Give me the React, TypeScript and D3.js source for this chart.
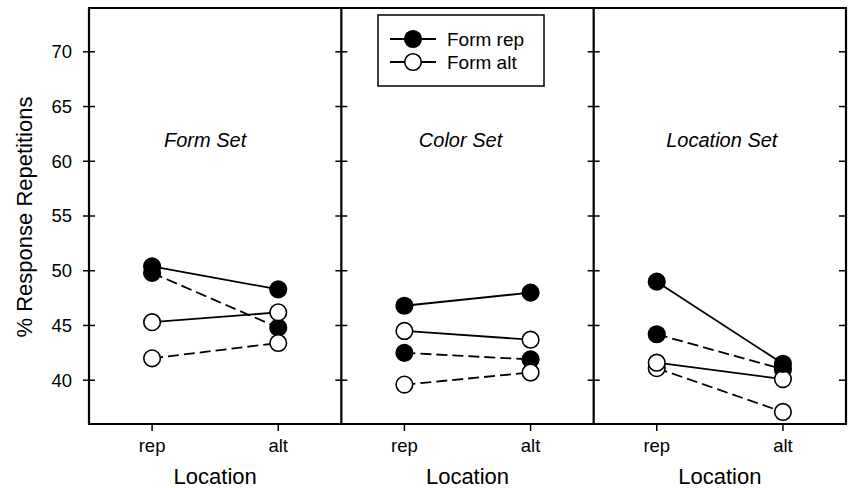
import React from "react";
import * as d3 from "d3";

// ---- data ----
const panelTitles = ["Form Set", "Color Set", "Location Set"];
const locations = ["rep", "alt"];
const yTicks = [40, 45, 50, 55, 60, 65, 70];
const legendLabels = ["Form rep", "Form alt"];

// values per panel: [rep, alt]
const formRepSolid = [[50.4, 48.3], [46.8, 48.0], [49.0, 41.5]];
const formRepDashed = [[49.8, 44.8], [42.5, 41.9], [44.2, 41.0]];
const formAltSolid = [[45.3, 46.2], [44.5, 43.7], [41.6, 40.1]];
const formAltDashed = [[42.0, 43.4], [39.6, 40.7], [41.1, 37.1]];

const series = [
  { name: "formRepDashed", values: formRepDashed, filled: true, dashed: true },
  { name: "formAltDashed", values: formAltDashed, filled: false, dashed: true },
  { name: "formAltSolid", values: formAltSolid, filled: false, dashed: false },
  { name: "formRepSolid", values: formRepSolid, filled: true, dashed: false },
];

// ---- layout ----
const W = 849;
const H = 488;
const L = 89;
const R = 846;
const T = 8;
const B = 424;
const PW = (R - L) / 3;
const TITLE_DX = [-10, -7, 2];
const FONT = "'Liberation Sans', Arial, sans-serif";
const RAD = 8.3;

export default function App() {
  const y = d3.scaleLinear().domain([36, 74]).range([B, T]);
  const xFor = (p: number) =>
    d3.scalePoint<string>().domain(locations).range([L + p * PW, L + (p + 1) * PW]).padding(0.5);
  const line = (xs: d3.ScalePoint<string>) =>
    d3
      .line<number>()
      .x((_, i) => xs(locations[i]) as number)
      .y((d) => y(d));

  return (
    <svg width={W} height={H} style={{ position: "absolute", left: 0, top: 0 }}>
      <rect x={0} y={0} width={W} height={H} fill="#fff" />
      {/* frame */}
      <line x1={L - 1} x2={R + 1} y1={T} y2={T} stroke="#000" strokeWidth={2.2} />
      <line x1={L - 1} x2={R + 1} y1={B} y2={B} stroke="#000" strokeWidth={2.2} />
      {[0, 1, 2, 3].map((i) => (
        <line key={i} x1={L + i * PW} x2={L + i * PW} y1={T} y2={B} stroke="#000" strokeWidth={2.2} />
      ))}
      {/* y ticks */}
      {yTicks.map((t) => (
        <g key={t}>
          {[0, 1, 2].map((i) => (
            <line key={i} x1={L + i * PW - 6} x2={L + i * PW + 6} y1={y(t)} y2={y(t)} stroke="#000" strokeWidth={1.5} />
          ))}
          <line x1={R - 7} x2={R} y1={y(t)} y2={y(t)} stroke="#000" strokeWidth={1.5} />
          <text x={72} y={y(t)} dy="0.35em" textAnchor="end" fontFamily={FONT} fontSize={18.5}>
            {t}
          </text>
        </g>
      ))}
      <text
        transform={`translate(32,217) rotate(-90)`}
        textAnchor="middle"
        fontFamily={FONT}
        fontSize={22}
      >
        % Response Repetitions
      </text>
      {panelTitles.map((title, p) => {
        const xs = xFor(p);
        return (
          <g key={title}>
            {locations.map((loc) => (
              <g key={loc}>
                <line x1={xs(loc)} x2={xs(loc)} y1={B} y2={B + 7} stroke="#000" strokeWidth={1.5} />
                <text x={xs(loc)} y={452} textAnchor="middle" fontFamily={FONT} fontSize={18.5}>
                  {loc}
                </text>
              </g>
            ))}
            <text x={L + p * PW + PW / 2} y={484} textAnchor="middle" fontFamily={FONT} fontSize={22}>
              Location
            </text>
            <text
              x={L + p * PW + PW / 2 + TITLE_DX[p]}
              y={147}
              textAnchor="middle"
              fontFamily={FONT}
              fontSize={20}
              fontStyle="italic"
            >
              {title}
            </text>
            {series.map((s) => (
              <path
                key={s.name}
                d={line(xs)(s.values[p]) || ""}
                fill="none"
                stroke="#000"
                strokeWidth={1.8}
                strokeDasharray={s.dashed ? "11,5" : undefined}
              />
            ))}
            {series.map((s) =>
              s.values[p].map((v, i) => (
                <circle
                  key={s.name + i}
                  cx={xs(locations[i])}
                  cy={y(v)}
                  r={RAD}
                  fill={s.filled ? "#000" : "#fff"}
                  stroke="#000"
                  strokeWidth={1.6}
                />
              ))
            )}
          </g>
        );
      })}
      {/* legend */}
      <rect x={378} y={15} width={166} height={71} fill="#fff" stroke="#000" strokeWidth={1.5} />
      {legendLabels.map((lab, i) => {
        const cy = 39 + i * 23;
        return (
          <g key={lab}>
            <line x1={390} x2={436} y1={cy} y2={cy} stroke="#000" strokeWidth={1.8} />
            <circle cx={413} cy={cy} r={RAD} fill={i === 0 ? "#000" : "#fff"} stroke="#000" strokeWidth={1.6} />
            <text x={447} y={cy} dy="0.35em" fontFamily={FONT} fontSize={19}>
              {lab}
            </text>
          </g>
        );
      })}
    </svg>
  );
}
